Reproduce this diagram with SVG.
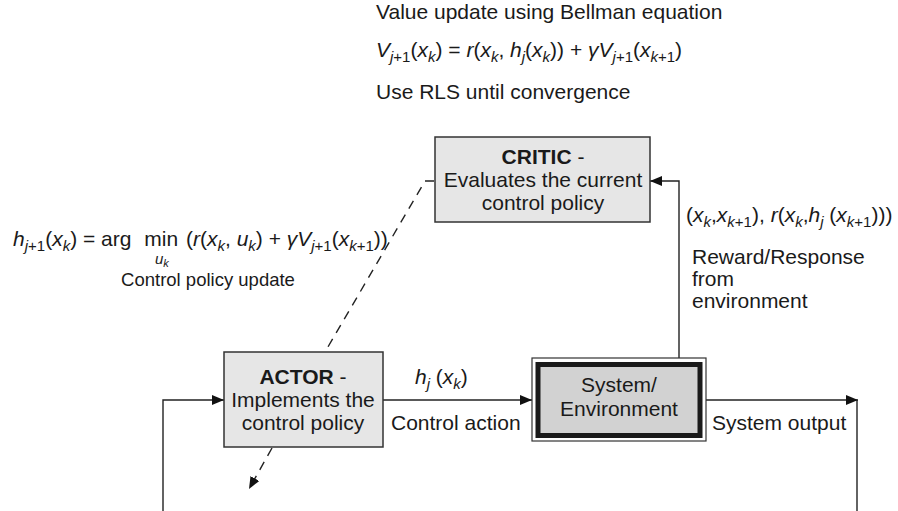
<svg xmlns="http://www.w3.org/2000/svg" width="898" height="511" viewBox="0 0 898 511">
<style>
text{font-family:"Liberation Sans",Arial,sans-serif;font-size:21px;fill:#1a1a1a}
.b{font-weight:bold}
.i{font-style:italic}
.s{font-size:15px}
.box{fill:#e6e6e6;stroke:#333;stroke-width:1.5}
.ln{fill:none;stroke:#222;stroke-width:1.4}
.ds{fill:none;stroke:#222;stroke-width:1.4;stroke-dasharray:9 7}
</style>
<defs>
<marker id="ah" markerWidth="12" markerHeight="10" refX="12" refY="5" orient="auto" markerUnits="userSpaceOnUse">
<path d="M0,0 L12,5 L0,10 Z" fill="#111"/>
</marker>
</defs>
<g id="labels">
<text x="376" y="19">Value update using Bellman equation</text>
<text x="376" y="57"><tspan class="i">V</tspan><tspan class="s i" dy="5">j</tspan><tspan class="s">+1</tspan><tspan dy="-5">(</tspan><tspan class="i">x</tspan><tspan class="s i" dy="5">k</tspan><tspan dy="-5">) = </tspan><tspan class="i">r</tspan><tspan>(</tspan><tspan class="i">x</tspan><tspan class="s i" dy="5">k</tspan><tspan dy="-5">, </tspan><tspan class="i">h</tspan><tspan class="s i" dy="5">j</tspan><tspan dy="-5">(</tspan><tspan class="i">x</tspan><tspan class="s i" dy="5">k</tspan><tspan dy="-5">)) + </tspan><tspan class="i">γV</tspan><tspan class="s i" dy="5">j</tspan><tspan class="s">+1</tspan><tspan dy="-5">(</tspan><tspan class="i">x</tspan><tspan class="s i" dy="5">k</tspan><tspan class="s">+1</tspan><tspan dy="-5">)</tspan></text>
<text x="376" y="99">Use RLS until convergence</text>
<text x="13" y="246"><tspan class="i">h</tspan><tspan class="s i" dy="5">j</tspan><tspan class="s">+1</tspan><tspan dy="-5">(</tspan><tspan class="i">x</tspan><tspan class="s i" dy="5">k</tspan><tspan dy="-5">) = arg </tspan><tspan dx="7">min </tspan><tspan dx="2">(</tspan><tspan class="i">r</tspan><tspan>(</tspan><tspan class="i">x</tspan><tspan class="s i" dy="5">k</tspan><tspan dy="-5">, </tspan><tspan class="i">u</tspan><tspan class="s i" dy="5">k</tspan><tspan dy="-5">) + </tspan><tspan class="i">γV</tspan><tspan class="s i" dy="5">j</tspan><tspan class="s">+1</tspan><tspan dy="-5">(</tspan><tspan class="i">x</tspan><tspan class="s i" dy="5">k</tspan><tspan class="s">+1</tspan><tspan dy="-5">))</tspan></text>
<text x="155" y="264" style="font-size:15px"><tspan class="i">u</tspan><tspan class="i" font-size="11" dy="3">k</tspan></text>
<text x="208" y="286" style="font-size:18.5px" text-anchor="middle">Control policy update</text>
<text x="686" y="222"><tspan>(</tspan><tspan class="i">x</tspan><tspan class="s i" dy="5">k</tspan><tspan dy="-5">,</tspan><tspan class="i">x</tspan><tspan class="s i" dy="5">k</tspan><tspan class="s">+1</tspan><tspan dy="-5">), </tspan><tspan class="i">r</tspan><tspan>(</tspan><tspan class="i">x</tspan><tspan class="s i" dy="5">k</tspan><tspan dy="-5">,</tspan><tspan class="i">h</tspan><tspan class="s i" dy="5">j</tspan><tspan dy="-5"> (</tspan><tspan class="i">x</tspan><tspan class="s i" dy="5">k</tspan><tspan class="s">+1</tspan><tspan dy="-5">)))</tspan></text>
<text x="692" y="264">Reward/Response</text>
<text x="692" y="286">from</text>
<text x="692" y="308">environment</text>
<text x="415" y="384"><tspan class="i">h</tspan><tspan class="s i" dy="5">j</tspan><tspan dy="-5"> (</tspan><tspan class="i">x</tspan><tspan class="s i" dy="5">k</tspan><tspan dy="-5">)</tspan></text>
<text x="391" y="430">Control action</text>
<text x="712" y="430">System output</text>
</g>
<g id="connectors">
<path class="ln" d="M679,358 V181 H650" marker-end="url(#ah)"/>
<path class="ln" d="M383,400 H532" marker-end="url(#ah)"/>
<path class="ln" d="M706,400 H858" marker-end="url(#ah)"/>
<path class="ln" d="M857,400 V511"/>
<path class="ln" d="M163,511 V400 H224" marker-end="url(#ah)"/>
<path class="ds" d="M434,181 H425 L325,352"/>
<path class="ds" d="M272,448 L249,489" marker-end="url(#ah)"/>
</g>
<g id="critic">
<rect class="box" x="435" y="137" width="215" height="85"/>
<text x="543" y="164" text-anchor="middle" class="b">CRITIC <tspan font-weight="normal">-</tspan></text>
<text x="543" y="187" text-anchor="middle">Evaluates the current</text>
<text x="543" y="210" text-anchor="middle">control policy</text>
</g>
<g id="actor">
<rect class="box" x="224" y="352" width="159" height="95"/>
<text x="303" y="384" text-anchor="middle" class="b">ACTOR <tspan font-weight="normal">-</tspan></text>
<text x="303" y="407" text-anchor="middle">Implements the</text>
<text x="303" y="430" text-anchor="middle">control policy</text>
</g>
<g id="system">
<rect x="532" y="358" width="174" height="83" fill="#fff" stroke="#333" stroke-width="1.2"/>
<rect x="538" y="364.5" width="162" height="71" fill="#d2d2d2" stroke="#1a1a1a" stroke-width="5"/>
<text x="619" y="392" text-anchor="middle">System/</text>
<text x="619" y="416" text-anchor="middle">Environment</text>
</g>
</svg>
